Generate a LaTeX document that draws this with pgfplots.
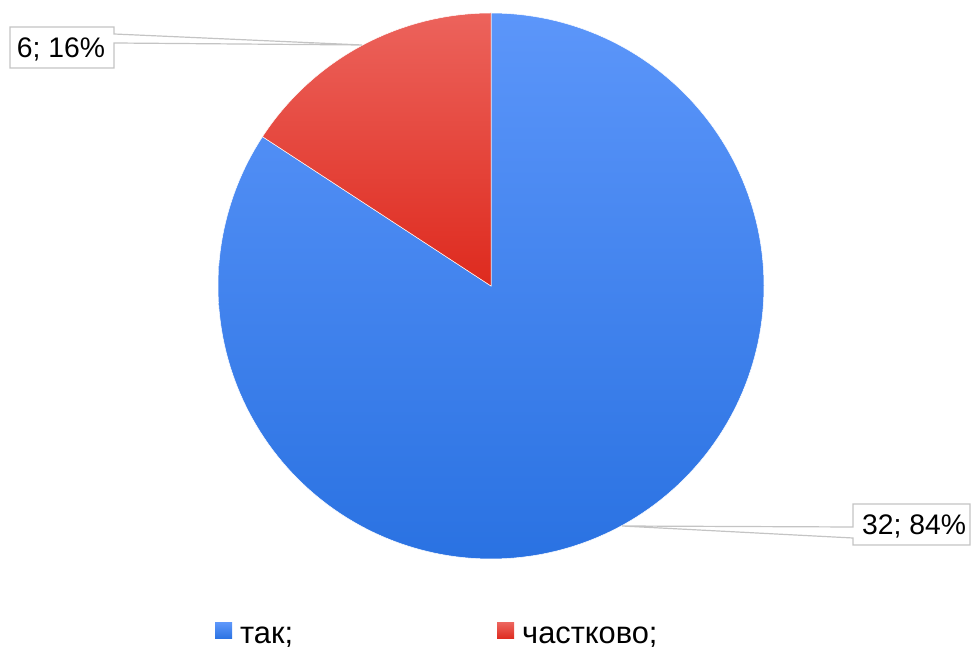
\documentclass[border=0pt]{standalone}
\usepackage{fontspec}
\setmainfont{Liberation Sans}
\usepackage{pgfplots}
\pgfplotsset{compat=1.18}
\usepackage{pgfplotstable}
\pgfplotstableread{
name value
tak 32
chastkovo 6
}\piedata
\pgfplotstablegetelem{0}{value}\of\piedata \edef\vA{\pgfplotsretval}
\pgfplotstablegetelem{1}{value}\of\piedata \edef\vB{\pgfplotsretval}
\pgfmathsetmacro{\tot}{\vA+\vB}
\pgfmathsetmacro{\aRed}{90+360*\vB/\tot}
\definecolor{bluetop}{HTML}{5C96FA}
\definecolor{bluemid}{HTML}{3986FB}
\definecolor{bluebot}{HTML}{2A72E2}
\definecolor{redtop}{HTML}{EC635C}
\definecolor{redmid}{HTML}{EE3E31}
\definecolor{redbot}{HTML}{DE2A1E}
\definecolor{boxgray}{HTML}{C4C4C4}
\begin{document}
\begin{tikzpicture}
\begin{axis}[hide axis, scale only axis, width=971bp, height=648bp,
  xmin=0, xmax=971, ymin=0, ymax=648, clip=false]
% blue slice (tak)
\addplot[draw=white, line width=0.5bp, top color=bluetop, middle color=bluemid, bottom color=bluebot,
  domain=\aRed:450, samples=200, variable=\t]
  ({491+273*cos(t)},{362+273*sin(t)}) -- (axis cs:491,362) -- cycle;
% red slice (chastkovo)
\addplot[draw=white, line width=0.5bp, top color=redtop, middle color=redmid, bottom color=redbot,
  domain=90:\aRed, samples=80, variable=\t]
  ({491+273*cos(t)},{362+273*sin(t)}) -- (axis cs:491,362) -- cycle;
% labels
\draw[boxgray, line width=1.2bp, fill=white] (axis cs:10,621) -- (axis cs:114,621) -- (axis cs:114,614) -- (axis cs:362,603) -- (axis cs:114,605) -- (axis cs:114,580) -- (axis cs:10,580) -- cycle;
\node[font=\fontsize{28.3bp}{34bp}\selectfont, anchor=base, inner sep=0pt] at (axis cs:61,590) {6; 16\%};
\draw[boxgray, line width=1.2bp, fill=white] (axis cs:853,144) -- (axis cs:970,144) -- (axis cs:970,103) -- (axis cs:853,103) -- (axis cs:853,110) -- (axis cs:622,122) -- (axis cs:853,121) -- cycle;
\node[font=\fontsize{28.3bp}{34bp}\selectfont, anchor=base west, inner sep=0pt] at (axis cs:862,113) {32; 84\%};
% legend
\fill[top color=bluetop, bottom color=bluebot] (axis cs:215,9) rectangle (axis cs:232,25);
\node[font=\fontsize{30.8bp}{36bp}\selectfont, anchor=base west, inner sep=0pt] at (axis cs:240,5) {так;};
\fill[top color=redtop, bottom color=redbot] (axis cs:497,9) rectangle (axis cs:514,25);
\node[font=\fontsize{30.8bp}{36bp}\selectfont, anchor=base west, inner sep=0pt] at (axis cs:522,5) {частково;};
\end{axis}
\pgfresetboundingbox
\useasboundingbox (current axis.south west) rectangle (current axis.north east);
\end{tikzpicture}
\end{document}
